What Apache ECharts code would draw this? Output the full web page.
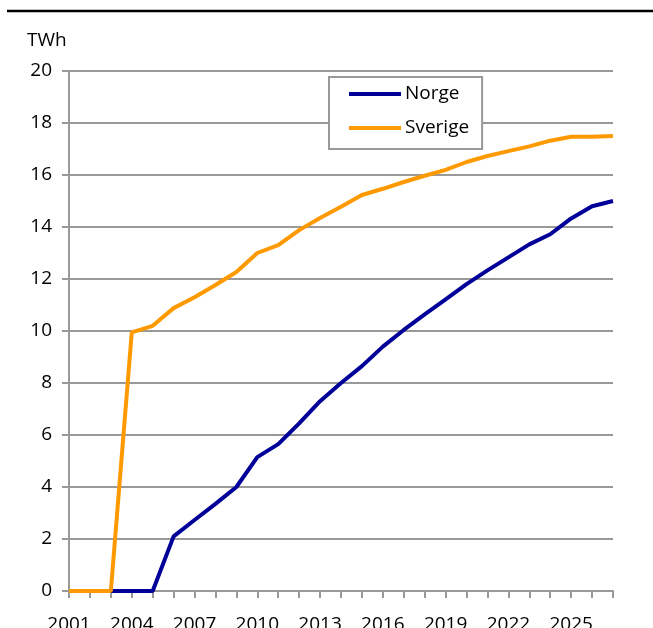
<!DOCTYPE html>
<html>
<head>
<meta charset="utf-8">
<script src="https://cdn.jsdelivr.net/npm/echarts@6/dist/echarts.min.js"></script>
<style>
  html, body { margin: 0; padding: 0; background: #fff; overflow: hidden; }
  #chart { width: 653px; height: 628px; }
</style>
</head>
<body>
<div id="chart"></div>
<script>
// Years on the category axis
const years = [2001, 2002, 2003, 2004, 2005, 2006, 2007, 2008, 2009, 2010,
  2011, 2012, 2013, 2014, 2015, 2016, 2017, 2018, 2019, 2020,
  2021, 2022, 2023, 2024, 2025, 2026, 2027];

// Accumulated volume, TWh
const norge = [0, 0, 0, 0, 0, 2.1, 2.73, 3.35, 4.0, 5.15,
  5.65, 6.45, 7.3, 8.0, 8.65, 9.4, 10.04, 10.64, 11.22, 11.8,
  12.33, 12.83, 13.33, 13.72, 14.33, 14.8, 15.0];
const sverige = [0, 0, 0, 9.95, 10.2, 10.88, 11.3, 11.77, 12.27, 13.0,
  13.3, 13.88, 14.35, 14.78, 15.23, 15.47, 15.73, 15.97, 16.2, 16.5,
  16.73, 16.92, 17.1, 17.32, 17.47, 17.47, 17.5];

const seriesNames = ['Norge', 'Sverige'];
const yTicks = { min: 0, max: 20, step: 2 };
const unitLabel = 'TWh';

const FONT = '"Open Sans", "DejaVu Sans", sans-serif';
const GRID_GREY = '#999999';

const chart = echarts.init(document.getElementById('chart'), null, { renderer: 'canvas' });

chart.setOption({
  animation: false,
  backgroundColor: '#ffffff',
  textStyle: { fontFamily: FONT, color: '#000' },
  grid: { left: 69, right: 40, top: 71, bottom: 37, containLabel: false, outerBoundsMode: 'none' },
  graphic: [
    {
      type: 'line',
      shape: { x1: 7, y1: 11, x2: 653, y2: 11 },
      style: { stroke: '#000', lineWidth: 2.5 },
      silent: true
    },
    {
      type: 'text',
      left: 27, top: 31,
      style: { text: unitLabel, font: '19px ' + FONT, fill: '#000' },
      silent: true
    }
  ],
  legend: {
    data: seriesNames,
    orient: 'vertical',
    left: 329, top: 77,
    padding: [6, 13, 10, 20],
    itemWidth: 52, itemHeight: 4,
    itemGap: 12,
    icon: 'rect',
    backgroundColor: '#fff',
    borderColor: GRID_GREY,
    borderWidth: 2,
    borderRadius: 0,
    textStyle: { fontFamily: FONT, fontSize: 19, lineHeight: 20, color: '#000', padding: [2, 0, 0, -1] }
  },
  xAxis: {
    type: 'category',
    data: years,
    boundaryGap: false,
    axisLine: { lineStyle: { color: GRID_GREY, width: 2 } },
    axisTick: { show: true, interval: 0, length: 7, lineStyle: { color: GRID_GREY, width: 2 } },
    axisLabel: { interval: 2, margin: 24, fontSize: 19, fontFamily: FONT, color: '#000' },
    splitLine: { show: false }
  },
  yAxis: {
    type: 'value',
    min: yTicks.min, max: yTicks.max, interval: yTicks.step,
    axisLine: { show: true, lineStyle: { color: GRID_GREY, width: 2 } },
    axisTick: { show: true, length: 7, lineStyle: { color: GRID_GREY, width: 2 } },
    axisLabel: { margin: 17, fontSize: 19, fontFamily: FONT, color: '#000' },
    splitLine: { show: true, lineStyle: { color: GRID_GREY, width: 2 } }
  },
  series: [
    {
      name: seriesNames[0], type: 'line', data: norge,
      symbol: 'none', lineStyle: { color: '#000099', width: 4 },
      itemStyle: { color: '#000099' }
    },
    {
      name: seriesNames[1], type: 'line', data: sverige,
      symbol: 'none', lineStyle: { color: '#FF9900', width: 4 },
      itemStyle: { color: '#FF9900' }
    }
  ]
});
</script>
</body>
</html>
